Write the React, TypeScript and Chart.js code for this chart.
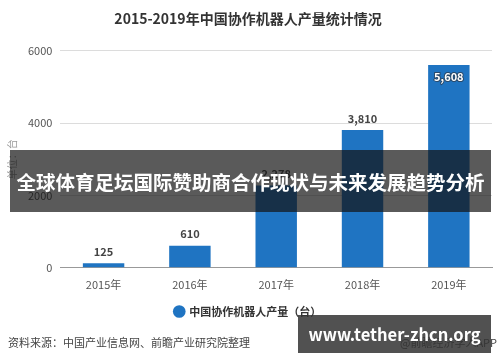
import React, { useEffect, useRef } from "react";
import { Chart, registerables } from "chart.js";

Chart.register(...registerables);

const categories = ["2015年", "2016年", "2017年", "2018年", "2019年"];
const production = [125, 610, 2278, 3810, 5608];
const valueLabels = ["125", "610", "2,278", "3,810", "5,608"];
const yTicks = [0, 2000, 4000, 6000];

const titleText = "2015-2019年中国协作机器人产量统计情况";
const seriesName = "中国协作机器人产量（台）";
const yAxisTitle = "单位：台";
const sourceText = "资料来源：中国产业信息网、前瞻产业研究院整理";
const appText = "@前瞻经济学人APP";
const bannerText = "全球体育足坛国际赞助商合作现状与未来发展趋势分析";
const watermarkText = "www.tether-zhcn.org";

const FONT = "'Noto Sans CJK SC', 'Noto Sans', sans-serif";
const BLUE = "#1f74c2";

const labelPlugin = {
  id: "valueLabels",
  afterDatasetsDraw(chart: any) {
    const ctx = chart.ctx;
    const meta = chart.getDatasetMeta(0);
    ctx.save();
    ctx.font = `bold 11px ${FONT}`;
    ctx.textAlign = "center";
    meta.data.forEach((bar: any, i: number) => {
      const inside = i === production.length - 1;
      if (inside) {
        ctx.textBaseline = "top";
        ctx.lineWidth = 2;
        ctx.strokeStyle = "#2a4a6a";
        ctx.strokeText(valueLabels[i], bar.x, bar.y + 6);
        ctx.fillStyle = "#ffffff";
        ctx.fillText(valueLabels[i], bar.x, bar.y + 6);
      } else {
        ctx.textBaseline = "bottom";
        ctx.fillStyle = "#444";
        ctx.fillText(valueLabels[i], bar.x, bar.y - 6);
      }
    });
    ctx.restore();
  },
};

export default function App() {
  const ref = useRef<HTMLCanvasElement>(null);

  useEffect(() => {
    document.body.style.margin = "0";
    const chart = new Chart(ref.current!, {
      type: "bar",
      data: {
        labels: categories,
        datasets: [
          {
            label: seriesName,
            data: production,
            backgroundColor: BLUE,
            barPercentage: 0.48,
            categoryPercentage: 1,
          },
        ],
      },
      options: {
        animation: false,
        responsive: false,
        maintainAspectRatio: false,
        layout: { padding: { left: 4, right: 8, top: 6, bottom: 35 } },
        plugins: {
          title: {
            display: true,
            text: titleText,
            color: "#333",
            font: { family: FONT, size: 14, weight: "bold" },
            padding: { top: 4, bottom: 24 },
          },
          legend: {
            position: "bottom",
            labels: {
              usePointStyle: true,
              pointStyle: "circle",
              boxWidth: 9,
              boxHeight: 9,
              color: "#333",
              font: { family: FONT, size: 11, weight: "bold" },
              padding: 13,
            },
          },
          tooltip: { enabled: false },
        },
        scales: {
          x: {
            grid: { display: false, drawTicks: true },
            border: { color: "#999" },
            ticks: { color: "#555", font: { family: FONT, size: 11 }, padding: 2 },
          },
          y: {
            min: 0,
            max: 6000,
            afterBuildTicks: (axis: any) => {
              axis.ticks = yTicks.map((v) => ({ value: v }));
            },
            grid: { color: "#dcdcdc", drawTicks: false },
            border: { display: false },
            ticks: {
              color: "#555",
              font: { family: FONT, size: 11 },
              padding: 8,
              callback: (v: any) => String(v),
            },
            title: {
              display: true,
              text: yAxisTitle,
              color: "#999",
              font: { family: FONT, size: 10 },
              padding: 2,
            },
          },
        },
      },
      plugins: [labelPlugin],
    });
    return () => chart.destroy();
  }, []);

  return (
    <div style={{ position: "relative", width: 500, height: 362, background: "#fff", overflow: "hidden" }}>
      <canvas ref={ref} width={500} height={362} style={{ display: "block" }} />
      <div
        style={{
          position: "absolute",
          left: 8,
          top: 334,
          fontFamily: FONT,
          fontSize: 11,
          color: "#444",
          whiteSpace: "nowrap",
        }}
      >
        {sourceText}
      </div>
      <div
        style={{
          position: "absolute",
          left: 400,
          top: 334,
          fontFamily: FONT,
          fontSize: 11,
          color: "#444",
          whiteSpace: "nowrap",
        }}
      >
        {appText}
      </div>
      <div
        style={{
          position: "absolute",
          left: 10,
          top: 150,
          width: 481,
          height: 62,
          background: "rgba(20,20,20,0.7)",
          color: "#fff",
          fontFamily: FONT,
          fontWeight: "bold",
          fontSize: 19.5,
          display: "flex",
          alignItems: "center",
          justifyContent: "center",
          whiteSpace: "nowrap",
        }}
      >
        {bannerText}
      </div>
      <div
        style={{
          position: "absolute",
          left: 298,
          top: 315,
          width: 193,
          height: 38,
          background: "rgba(50,50,50,0.85)",
          color: "#fff",
          fontFamily: FONT,
          fontWeight: "bold",
          fontSize: 16.5,
          display: "flex",
          alignItems: "center",
          justifyContent: "center",
          whiteSpace: "nowrap",
        }}
      >
        {watermarkText}
      </div>
    </div>
  );
}
